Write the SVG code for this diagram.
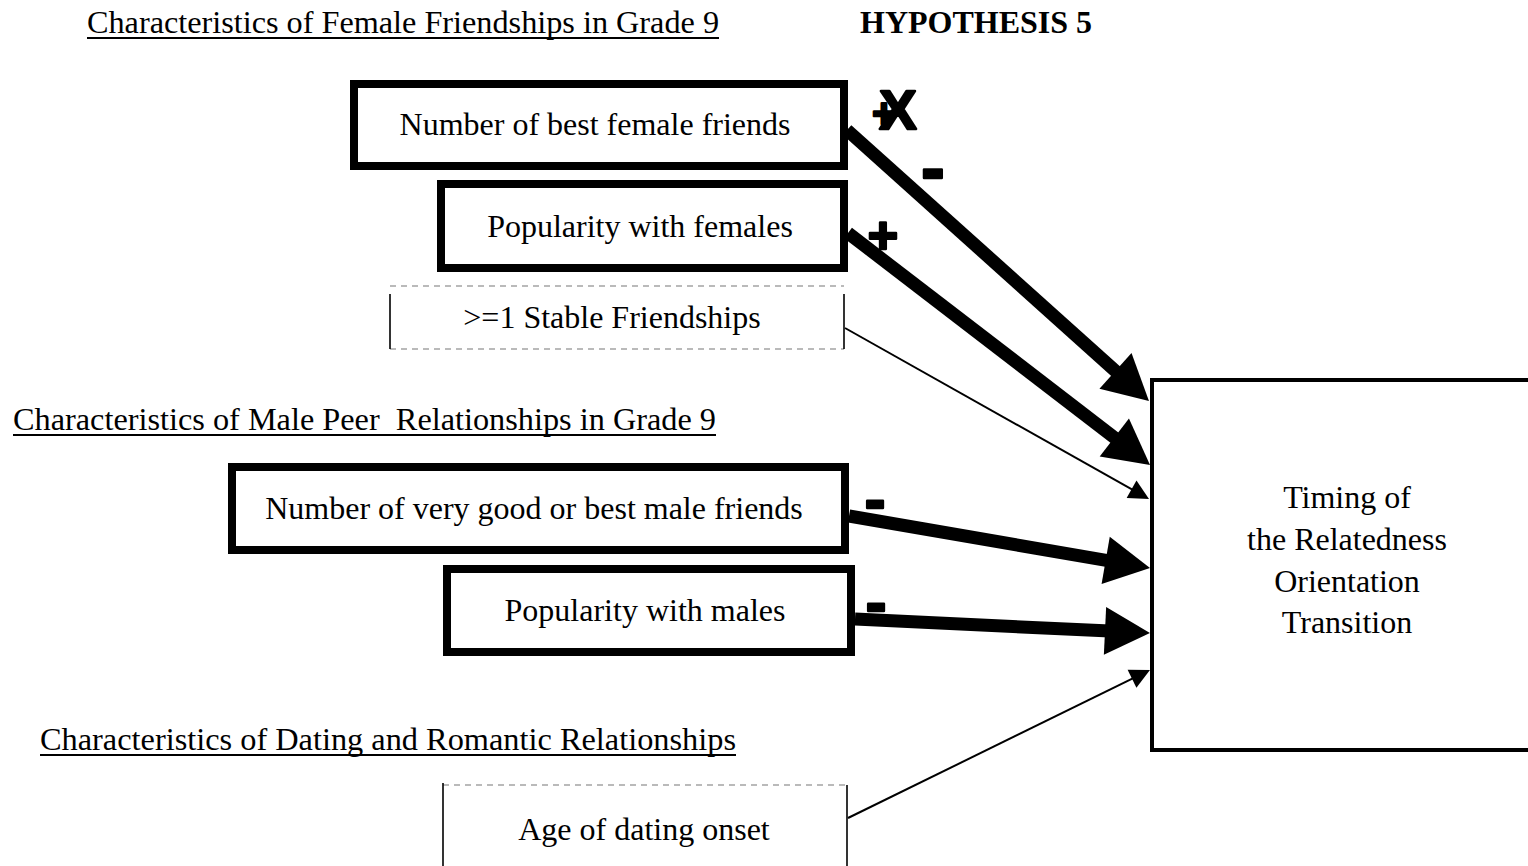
<svg xmlns="http://www.w3.org/2000/svg" width="1528" height="866" viewBox="0 0 1528 866">
  <style>
    .t { font-family: "Liberation Serif", "Times New Roman", serif; font-size: 32px; fill: #000; }
    .mid { text-anchor: middle; }
    .hd { font-weight: bold; }
    .sign { font-family: "Liberation Sans", Arial, sans-serif; font-weight: bold; fill: #000; stroke: #000; stroke-width: 2.5; stroke-linejoin: round; text-anchor: middle; }
    .box { fill: #fff; stroke: #000; stroke-width: 8; }
    .thin-side { stroke: #000; stroke-width: 1.6; fill: none; }
    .faint { stroke: #777; stroke-width: 1.2; stroke-dasharray: 6 5; fill: none; }
    .uline { stroke: #000; stroke-width: 2; }
    .thick { stroke: #000; stroke-width: 13; fill: none; }
    .thinl { stroke: #000; stroke-width: 2; fill: none; }
  </style>
  <defs>
    <marker id="headBig" markerUnits="userSpaceOnUse" markerWidth="48" markerHeight="50" refX="5" refY="24" orient="auto" overflow="visible">
      <path d="M0,0 L45,24 L0,48 z" fill="#000"/>
    </marker>
    <marker id="headSmall" markerUnits="userSpaceOnUse" markerWidth="22" markerHeight="22" refX="6" refY="10" orient="auto" overflow="visible">
      <path d="M0,0 L20,10 L0,20 z" fill="#000"/>
    </marker>
  </defs>

  <rect width="1528" height="866" fill="#fff"/>

  <!-- section headings -->
  <g id="headings">
    <text class="t" x="87" y="33" textLength="632" lengthAdjust="spacingAndGlyphs">Characteristics of Female Friendships in Grade 9</text>
    <line class="uline" x1="87" y1="38" x2="719" y2="38"/>
    <text class="t hd" x="860" y="33">HYPOTHESIS 5</text>
    <text class="t" x="13" y="430" xml:space="preserve" textLength="703" lengthAdjust="spacingAndGlyphs">Characteristics of Male Peer  Relationships in Grade 9</text>
    <line class="uline" x1="13" y1="435" x2="716" y2="435"/>
    <text class="t" x="40" y="750" textLength="696" lengthAdjust="spacingAndGlyphs">Characteristics of Dating and Romantic Relationships</text>
    <line class="uline" x1="40" y1="755" x2="736" y2="755"/>
  </g>

  <!-- connectors -->
  <g id="connectors">
    <line class="thick" x1="847" y1="130" x2="1119.2" y2="374.3" marker-end="url(#headBig)"/>
    <line class="thick" x1="848" y1="233" x2="1118.3" y2="440.6" marker-end="url(#headBig)"/>
    <line class="thinl" x1="845" y1="328" x2="1136.8" y2="492.1" marker-end="url(#headSmall)"/>
    <line class="thick" x1="849" y1="516" x2="1110.6" y2="561.2" marker-end="url(#headBig)"/>
    <line class="thick" x1="855" y1="619" x2="1110" y2="631.1" marker-end="url(#headBig)"/>
    <line class="thinl" x1="848" y1="818" x2="1137.4" y2="676.2" marker-end="url(#headSmall)"/>
  </g>

  <!-- path signs: a crossed-out plus, then minus / plus marks -->
  <g id="signs">
    <text class="sign" x="884" y="127" font-size="40">+</text>
    <text class="sign" x="898" y="129" font-size="56">X</text>
    <text class="sign" x="933" y="192" font-size="70">-</text>
    <text class="sign" x="883" y="253" font-size="52">+</text>
    <text class="sign" x="875" y="520" font-size="62">-</text>
    <text class="sign" x="876" y="623" font-size="62">-</text>
  </g>

  <g id="node-best-female">
    <rect class="box" x="354" y="84" width="490" height="82"/>
    <text class="t mid" x="595" y="135">Number of best female friends</text>
  </g>

  <g id="node-pop-female">
    <rect class="box" x="441" y="184" width="403" height="84"/>
    <text class="t mid" x="640" y="237">Popularity with females</text>
  </g>

  <g id="node-stable">
    <line class="faint" x1="390" y1="286" x2="844" y2="286"/>
    <line class="faint" x1="390" y1="349" x2="844" y2="349"/>
    <line class="thin-side" x1="390" y1="294" x2="390" y2="349"/>
    <line class="thin-side" x1="844" y1="294" x2="844" y2="349"/>
    <text class="t mid" x="612" y="328">&gt;=1 Stable Friendships</text>
  </g>

  <g id="node-male-friends">
    <rect class="box" x="232" y="467" width="613" height="83"/>
    <text class="t mid" x="534" y="519">Number of very good or best male friends</text>
  </g>

  <g id="node-pop-male">
    <rect class="box" x="447" y="569" width="404" height="83"/>
    <text class="t mid" x="645" y="621">Popularity with males</text>
  </g>

  <g id="node-dating">
    <line class="faint" x1="443" y1="785" x2="847" y2="785"/>
    <line class="thin-side" x1="443" y1="783" x2="443" y2="866"/>
    <line class="thin-side" x1="847" y1="785" x2="847" y2="866"/>
    <text class="t mid" x="644" y="840">Age of dating onset</text>
  </g>

  <g id="node-timing">
    <rect x="1152" y="380" width="400" height="370" fill="#fff" stroke="#000" stroke-width="4"/>
    <text class="t mid" x="1347" y="508">Timing of</text>
    <text class="t mid" x="1347" y="550">the Relatedness</text>
    <text class="t mid" x="1347" y="592">Orientation</text>
    <text class="t mid" x="1347" y="633">Transition</text>
  </g>
</svg>
